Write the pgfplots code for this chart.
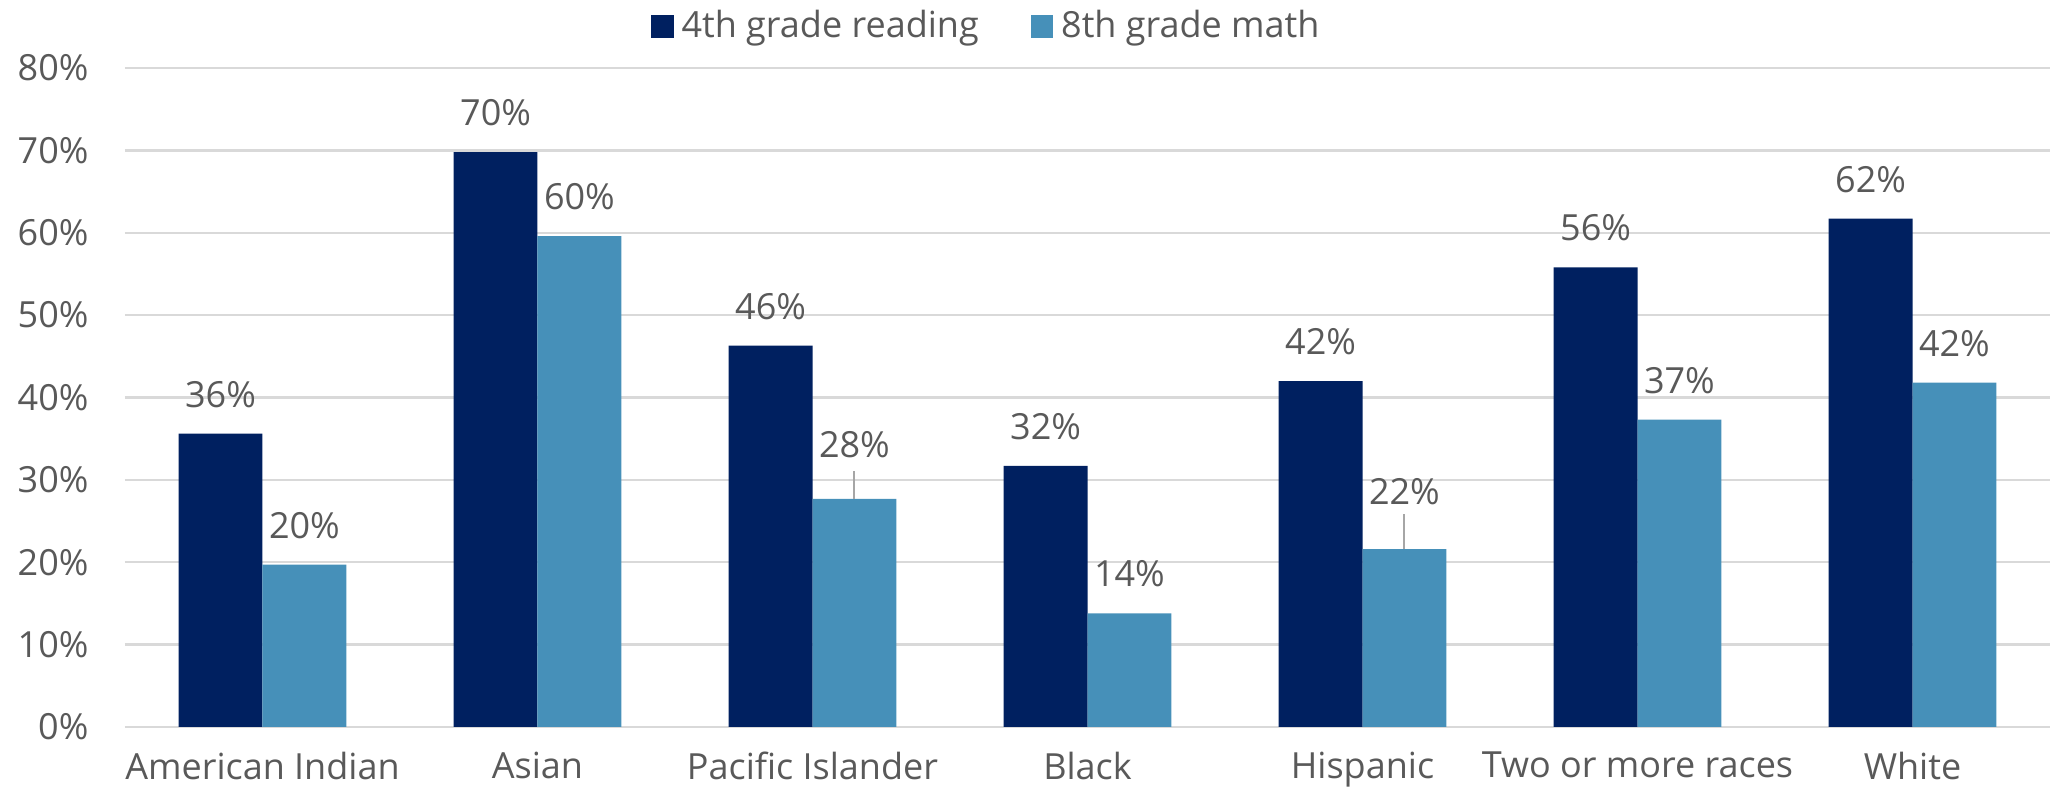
\documentclass[border=0pt]{standalone}
\usepackage{fontspec}
\setmainfont{Open Sans}
\usepackage{pgfplots}
\usepackage{pgfplotstable}
\pgfplotsset{compat=1.18}

\definecolor{navy}{RGB}{0,32,96}
\definecolor{steel}{RGB}{70,144,185}
\definecolor{txt}{RGB}{89,89,89}
\definecolor{gridgray}{RGB}{217,217,217}

% x, value, extra label shift (pt)
\pgfplotstableread{
x  v     off
0  35.6  0
1  69.8  0
2  46.3  0
3  31.7  0
4  42.0  0
5  55.8  0
6  61.7  0
}\reading
\pgfplotstableread{
x  v     off
0  19.7  0
1  59.6  0
2  27.7  3.6
3  13.8  0
4  21.6  4.6
5  37.3  0
6  41.8  0
}\math

\begin{document}
\begin{tikzpicture}
\begin{axis}[
  scale only axis,
  width=481.25pt,
  height=164.75pt,
  ymin=0, ymax=80,
  xmin=-0.5, xmax=6.5,
  ytick={0,10,...,80},
  yticklabel={\pgfmathprintnumber{\tick}\%},
  xtick=data,
  xticklabels={American Indian,Asian,Pacific Islander,Black,Hispanic,Two or more races,White},
  /pgf/number format/assume math mode=true,
  ymajorgrids,
  xmajorgrids=false,
  grid style={draw=gridgray, line width=0.6pt},
  axis line style={draw=none},
  tick style={draw=none},
  ticklabel style={font=\fontsize{9}{10}\selectfont, text=txt},
  yticklabel style={xshift=-5.6pt},
  xticklabel style={yshift=1.5pt},
  ybar,
  bar width=0.305,
  nodes near coords={\pgfmathprintnumber[fixed,precision=0]{\pgfplotspointmeta}\%},
  visualization depends on={\thisrow{off} \as \off},
  every node near coord/.append style={font=\fontsize{9}{10}\selectfont, text=txt, anchor=south, yshift={(3+\off)*1pt}},
  legend style={at={(0.449,1)}, anchor=south, yshift=2pt, draw=none, fill=none,
    font=\fontsize{9}{10}\selectfont, text=txt, legend columns=2,
    /tikz/every even column/.append style={column sep=11pt}},
  legend image code/.code={\fill[#1] (0pt,-2.8pt) rectangle (5.6pt,2.8pt);},
]
\addplot[fill=navy, draw=none, bar shift=-0.1525] table[x=x, y=v] {\reading};
\addplot[fill=steel, draw=none, bar shift=0.1525] table[x=x, y=v] {\math};
\draw[gray!70, line width=0.5pt] (axis cs:2.1525,27.7) -- (axis cs:2.1525,31.1);
\draw[gray!70, line width=0.5pt] (axis cs:4.1525,21.6) -- (axis cs:4.1525,25.9);
\legend{4th grade reading, 8th grade math}
\end{axis}
\pgfresetboundingbox
\path (current axis.south west) ++(-31.25pt,-15.75pt) coordinate (bl);
\path (current axis.north east) ++(0pt,17pt) coordinate (tr);
\path[use as bounding box] (bl) rectangle (tr);
\end{tikzpicture}
\end{document}
